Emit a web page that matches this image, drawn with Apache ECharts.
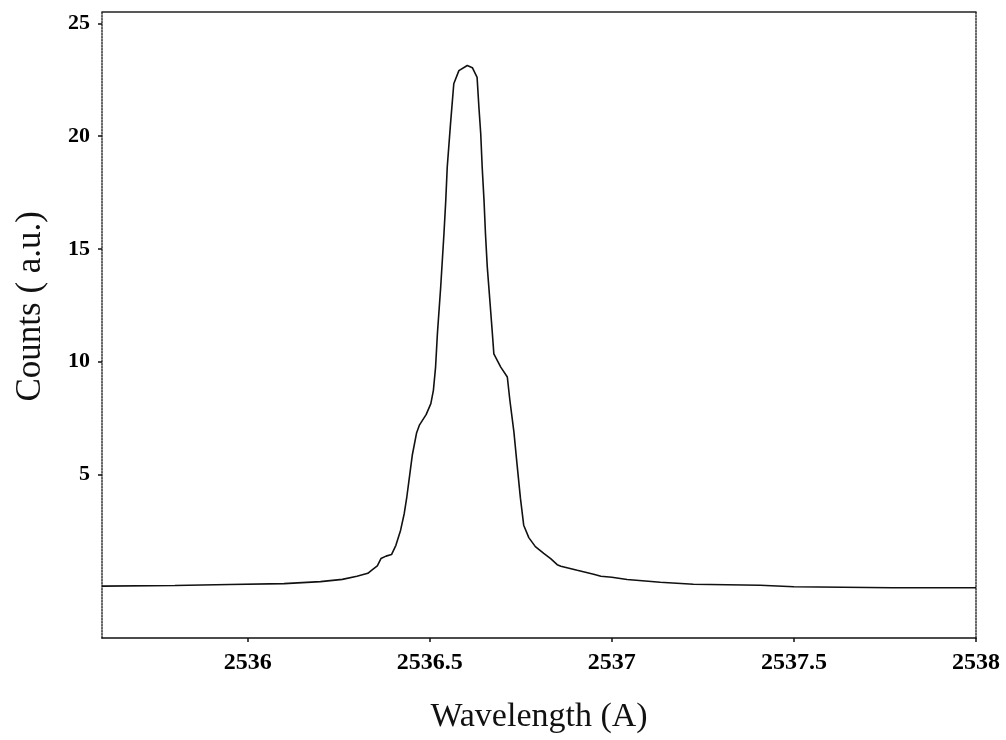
<!DOCTYPE html>
<html>
<head>
<meta charset="utf-8">
<script src="https://cdn.jsdelivr.net/npm/echarts@6/dist/echarts.min.js"></script>
<style>
html,body{margin:0;padding:0;background:#fff;}
#chart{width:1006px;height:740px;}
</style>
</head>
<body>
<div id="chart"></div>
<script>
// Wavelength (Å) and counts
const wavelength = [2535.6, 2535.8, 2535.95, 2536.1, 2536.2, 2536.26, 2536.3, 2536.33, 2536.34, 2536.356, 2536.366, 2536.38, 2536.395, 2536.407, 2536.42, 2536.43, 2536.437, 2536.443, 2536.452, 2536.464, 2536.472, 2536.49, 2536.503, 2536.51, 2536.516, 2536.521, 2536.53, 2536.539, 2536.544, 2536.548, 2536.557, 2536.566, 2536.58, 2536.603, 2536.617, 2536.63, 2536.635, 2536.64, 2536.644, 2536.649, 2536.653, 2536.658, 2536.665, 2536.672, 2536.676, 2536.695, 2536.713, 2536.72, 2536.731, 2536.74, 2536.749, 2536.758, 2536.772, 2536.79, 2536.813, 2536.832, 2536.85, 2536.86, 2536.905, 2536.95, 2536.97, 2537.0, 2537.042, 2537.133, 2537.224, 2537.407, 2537.5, 2537.77, 2538.0];
const counts = [0.05, 0.08, 0.12, 0.16, 0.25, 0.35, 0.49, 0.62, 0.75, 0.95, 1.27, 1.38, 1.45, 1.86, 2.53, 3.27, 4.0, 4.74, 5.85, 6.85, 7.2, 7.65, 8.14, 8.73, 9.76, 11.24, 13.3, 15.67, 17.15, 18.62, 20.54, 22.32, 22.9, 23.13, 23.03, 22.6, 21.28, 20.1, 18.62, 17.15, 15.67, 14.19, 12.72, 11.24, 10.35, 9.76, 9.32, 8.29, 6.9, 5.4, 3.95, 2.75, 2.2, 1.8, 1.5, 1.27, 1.0, 0.93, 0.75, 0.58, 0.49, 0.44, 0.34, 0.22, 0.13, 0.09, 0.02, -0.02, -0.02];
const xTicks = [2536, 2536.5, 2537, 2537.5, 2538];
const yTicks = [5, 10, 15, 20, 25];
const xRange = [2535.6, 2538];
const yRange = [-2.25, 25.5];
const xTitle = 'Wavelength (A)';
const yTitle = 'Counts ( a.u.)';

const pts = wavelength.map((w, i) => [w, counts[i]]);
const serif = '"Liberation Serif", "DejaVu Serif", serif';
const chart = echarts.init(document.getElementById('chart'), null, {renderer: 'canvas'});
chart.setOption({
  animation: false,
  backgroundColor: '#ffffff',
  grid: {left: 102, right: 30, top: 12, bottom: 102},
  xAxis: [{
    type: 'value', min: xRange[0], max: xRange[1], position: 'bottom',
    splitLine: {show: false},
    axisLine: {show: true, onZero: false, lineStyle: {color: '#111', width: 1.5}},
    axisTick: {show: true, length: 4, customValues: xTicks, lineStyle: {color: '#111', width: 1.5}},
    axisLabel: {customValues: xTicks, margin: 13, color: '#000', fontFamily: serif, fontWeight: 'bold', fontSize: 24,
      formatter: v => String(v)},
    name: xTitle, nameLocation: 'middle', nameGap: 62,
    nameTextStyle: {fontFamily: serif, fontSize: 34, color: '#111'}
  }, {
    type: 'value', min: xRange[0], max: xRange[1], position: 'top',
    splitLine: {show: false}, axisTick: {show: false}, axisLabel: {show: false},
    axisLine: {show: true, onZero: false, lineStyle: {color: '#222', width: 1.5}}
  }],
  yAxis: [{
    type: 'value', min: yRange[0], max: yRange[1], position: 'left',
    splitLine: {show: false},
    axisLine: {show: true, onZero: false, lineStyle: {color: '#333', width: 1.5, type: 'dotted'}},
    axisTick: {show: true, length: 4, customValues: yTicks, lineStyle: {color: '#111', width: 1.5}},
    axisLabel: {customValues: yTicks, margin: 12, color: '#000', fontFamily: serif, fontWeight: 'bold', fontSize: 22,
      formatter: v => String(v)}
  }, {
    type: 'value', min: yRange[0], max: yRange[1], position: 'right',
    splitLine: {show: false}, axisTick: {show: false}, axisLabel: {show: false},
    axisLine: {show: true, onZero: false, lineStyle: {color: '#333', width: 1.5, type: 'dotted'}}
  }],
  graphic: [{
    type: 'text', left: 13, top: 211,
    rotation: Math.PI / 2,
    style: {text: yTitle, fontFamily: serif, fontSize: 35, fill: '#111'}
  }],
  series: [{
    type: 'line', xAxisIndex: 0, yAxisIndex: 0, data: pts,
    showSymbol: false, smooth: false,
    lineStyle: {color: '#111', width: 1.6}
  }]
});
</script>
</body>
</html>
